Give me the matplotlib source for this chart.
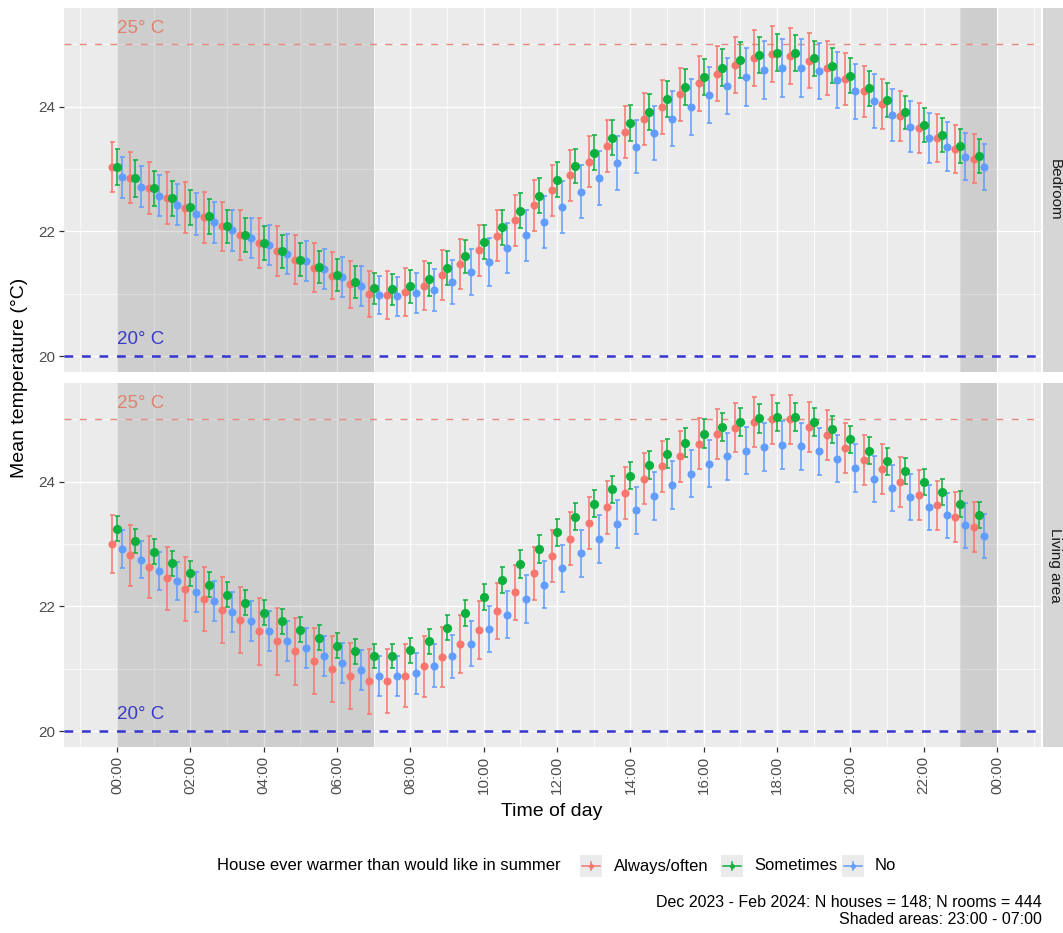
import matplotlib
matplotlib.use('Agg')
import matplotlib.pyplot as plt
from matplotlib.patches import Rectangle
from matplotlib.lines import Line2D

plt.rcParams['font.family'] = ['Liberation Sans', 'DejaVu Sans']

# ---------------- data ----------------
times = ["00:00", "00:30", "01:00", "01:30", "02:00", "02:30", "03:00", "03:30",
         "04:00", "04:30", "05:00", "05:30", "06:00", "06:30", "07:00", "07:30",
         "08:00", "08:30", "09:00", "09:30", "10:00", "10:30", "11:00", "11:30",
         "12:00", "12:30", "13:00", "13:30", "14:00", "14:30", "15:00", "15:30",
         "16:00", "16:30", "17:00", "17:30", "18:00", "18:30", "19:00", "19:30",
         "20:00", "20:30", "21:00", "21:30", "22:00", "22:30", "23:00", "23:30"]

groups = ["Always/often", "Sometimes", "No"]
panels = ["Bedroom", "Living area"]

x_tick_hours = [0, 2, 4, 6, 8, 10, 12, 14, 16, 18, 20, 22, 24]
x_tick_labels = ["00:00", "02:00", "04:00", "06:00", "08:00", "10:00", "12:00",
                 "14:00", "16:00", "18:00", "20:00", "22:00", "00:00"]
y_ticks = [20, 22, 24]

# Bedroom means
bed_always = [23.03, 22.86, 22.70, 22.54, 22.38, 22.23, 22.08, 21.95, 21.82, 21.68, 21.55, 21.42,
              21.29, 21.15, 21.00, 20.98, 21.03, 21.13, 21.30, 21.48, 21.70, 21.93, 22.18, 22.42,
              22.66, 22.90, 23.12, 23.37, 23.60, 23.80, 24.00, 24.20, 24.38, 24.53, 24.67, 24.78,
              24.84, 24.82, 24.74, 24.62, 24.45, 24.25, 24.05, 23.85, 23.66, 23.50, 23.32, 23.17]
bed_sometimes = [23.03, 22.85, 22.69, 22.53, 22.39, 22.24, 22.08, 21.94, 21.81, 21.68, 21.55, 21.43,
                 21.30, 21.19, 21.09, 21.07, 21.12, 21.23, 21.41, 21.60, 21.83, 22.07, 22.33, 22.57,
                 22.83, 23.05, 23.26, 23.50, 23.74, 23.92, 24.13, 24.32, 24.48, 24.63, 24.75, 24.83,
                 24.87, 24.86, 24.78, 24.66, 24.50, 24.30, 24.11, 23.91, 23.71, 23.55, 23.37, 23.21]
bed_no = [22.87, 22.72, 22.57, 22.43, 22.28, 22.15, 22.02, 21.90, 21.78, 21.64, 21.52, 21.40,
          21.27, 21.12, 20.98, 20.96, 21.01, 21.06, 21.19, 21.35, 21.51, 21.73, 21.94, 22.15,
          22.39, 22.64, 22.86, 23.10, 23.36, 23.58, 23.81, 24.00, 24.19, 24.34, 24.48, 24.59,
          24.62, 24.62, 24.57, 24.43, 24.25, 24.09, 23.87, 23.68, 23.50, 23.36, 23.20, 23.04]

# Bedroom half-widths of the error bars
bed_always_err = [0.40, 0.41, 0.42, 0.42, 0.41, 0.41, 0.40, 0.40, 0.40, 0.40, 0.39, 0.39,
                  0.38, 0.38, 0.37, 0.38, 0.38, 0.39, 0.40, 0.40, 0.41, 0.41, 0.41, 0.41,
                  0.41, 0.41, 0.41, 0.42, 0.42, 0.42, 0.43, 0.43, 0.44, 0.44, 0.45, 0.45,
                  0.45, 0.45, 0.44, 0.43, 0.42, 0.41, 0.40, 0.40, 0.40, 0.39, 0.39, 0.39]
bed_sometimes_err = [0.29, 0.29, 0.28, 0.28, 0.28, 0.28, 0.27, 0.27, 0.27, 0.26, 0.26, 0.26,
                     0.26, 0.25, 0.25, 0.25, 0.26, 0.26, 0.27, 0.27, 0.27, 0.28, 0.28, 0.28,
                     0.28, 0.28, 0.28, 0.28, 0.29, 0.29, 0.29, 0.29, 0.29, 0.29, 0.29, 0.29,
                     0.29, 0.29, 0.28, 0.28, 0.28, 0.28, 0.27, 0.27, 0.27, 0.27, 0.27, 0.27]
bed_no_err = [0.33, 0.33, 0.33, 0.33, 0.33, 0.33, 0.33, 0.32, 0.32, 0.32, 0.32, 0.32,
              0.32, 0.32, 0.31, 0.31, 0.32, 0.33, 0.35, 0.37, 0.39, 0.40, 0.41, 0.42,
              0.42, 0.43, 0.43, 0.43, 0.43, 0.44, 0.44, 0.45, 0.45, 0.45, 0.46, 0.46,
              0.46, 0.46, 0.45, 0.45, 0.44, 0.43, 0.42, 0.41, 0.40, 0.39, 0.38, 0.37]

# Living area means
liv_always = [23.00, 22.82, 22.63, 22.45, 22.28, 22.12, 21.95, 21.78, 21.60, 21.44, 21.28, 21.12,
              20.99, 20.89, 20.80, 20.80, 20.89, 21.04, 21.19, 21.40, 21.62, 21.93, 22.23, 22.53,
              22.81, 23.09, 23.34, 23.59, 23.82, 24.05, 24.25, 24.41, 24.61, 24.76, 24.87, 24.96,
              25.00, 25.00, 24.88, 24.75, 24.54, 24.35, 24.20, 24.00, 23.79, 23.62, 23.44, 23.27]
liv_sometimes = [23.25, 23.05, 22.88, 22.69, 22.53, 22.35, 22.19, 22.06, 21.90, 21.76, 21.63, 21.50,
                 21.37, 21.28, 21.20, 21.21, 21.30, 21.44, 21.66, 21.89, 22.15, 22.42, 22.68, 22.92,
                 23.19, 23.44, 23.65, 23.88, 24.10, 24.27, 24.45, 24.63, 24.77, 24.88, 24.96, 25.02,
                 25.04, 25.04, 24.96, 24.84, 24.68, 24.50, 24.33, 24.17, 24.00, 23.83, 23.65, 23.47]
liv_no = [22.92, 22.75, 22.57, 22.41, 22.23, 22.09, 21.91, 21.76, 21.60, 21.44, 21.33, 21.21,
          21.09, 20.98, 20.88, 20.88, 20.93, 21.05, 21.20, 21.40, 21.64, 21.87, 22.12, 22.35,
          22.61, 22.85, 23.08, 23.32, 23.54, 23.77, 23.95, 24.13, 24.29, 24.41, 24.50, 24.56,
          24.59, 24.57, 24.49, 24.37, 24.22, 24.05, 23.90, 23.75, 23.59, 23.46, 23.30, 23.13]

# Living area half-widths of the error bars
liv_always_err = [0.47, 0.49, 0.50, 0.51, 0.52, 0.52, 0.53, 0.53, 0.54, 0.54, 0.54, 0.53,
                  0.53, 0.53, 0.52, 0.51, 0.50, 0.49, 0.48, 0.47, 0.46, 0.45, 0.44, 0.43,
                  0.42, 0.42, 0.42, 0.42, 0.42, 0.41, 0.41, 0.41, 0.41, 0.40, 0.40, 0.40,
                  0.40, 0.40, 0.40, 0.40, 0.40, 0.40, 0.40, 0.40, 0.40, 0.40, 0.40, 0.40]
liv_sometimes_err = [0.20, 0.20, 0.20, 0.20, 0.20, 0.20, 0.20, 0.20, 0.20, 0.20, 0.20, 0.20,
                     0.20, 0.20, 0.19, 0.19, 0.20, 0.20, 0.20, 0.21, 0.21, 0.21, 0.22, 0.22,
                     0.22, 0.22, 0.22, 0.22, 0.22, 0.22, 0.23, 0.23, 0.23, 0.23, 0.23, 0.23,
                     0.23, 0.23, 0.22, 0.22, 0.22, 0.22, 0.22, 0.21, 0.21, 0.21, 0.21, 0.21]
liv_no_err = [0.30, 0.30, 0.31, 0.31, 0.32, 0.32, 0.32, 0.32, 0.32, 0.32, 0.32, 0.32,
              0.32, 0.32, 0.32, 0.32, 0.33, 0.34, 0.35, 0.36, 0.37, 0.38, 0.38, 0.38,
              0.38, 0.38, 0.38, 0.38, 0.38, 0.38, 0.38, 0.38, 0.38, 0.38, 0.38, 0.38,
              0.38, 0.38, 0.38, 0.38, 0.38, 0.37, 0.37, 0.37, 0.36, 0.36, 0.36, 0.36]

panel_data = {
    "Bedroom": [(bed_always, bed_always_err), (bed_sometimes, bed_sometimes_err), (bed_no, bed_no_err)],
    "Living area": [(liv_always, liv_always_err), (liv_sometimes, liv_sometimes_err), (liv_no, liv_no_err)],
}

shade_spans = [(0, 7), (23, 24)]
ref_lines = [25, 20]
ref_labels = ["25° C", "20° C"]

legend_title = "House ever warmer than would like in summer"
caption = "Dec 2023 - Feb 2024: N houses = 148; N rooms = 444\nShaded areas: 23:00 - 07:00"

# ---------------- style ----------------
colors = ["#F8766D", "#0DB03C", "#619CFF"]
point_sizes = [5.8, 6.6, 5.8]
dodge = [-0.14, 0.0, 0.14]
ref_colors = ["#E8897E", "#3535D0"]
ref_text_colors = ["#E0826F", "#3A3AC8"]

W, H = 1063, 933
fig = plt.figure(figsize=(W / 100, H / 100), dpi=100)

hours = [int(t[:2]) + int(t[3:]) / 60 for t in times]

ax_left = 64 / W
ax_w = (1041 - 64) / W
ax_h = 363.4 / H
bottoms = [1 - 371.7 / H, 1 - 746.7 / H]

axes = []
for i, panel in enumerate(panels):
    ax = fig.add_axes([ax_left, bottoms[i], ax_w, ax_h])
    axes.append(ax)
    ax.set_facecolor("#EBEBEB")
    ax.set_xlim(-1.45, 25.2)
    ax.set_ylim(19.75, 25.58)
    for s in ax.spines.values():
        s.set_visible(False)
    # grid
    for xv in range(-1, 26, 2):
        ax.axvline(xv, color="white", lw=0.5, zorder=0.5)
    for xv in x_tick_hours:
        ax.axvline(xv, color="white", lw=1.0, zorder=0.6)
    for yv in [21, 23, 25]:
        ax.axhline(yv, color="white", lw=0.5, zorder=0.5)
    for yv in y_ticks:
        ax.axhline(yv, color="white", lw=1.0, zorder=0.6)
    # shaded areas
    for (a, b) in shade_spans:
        ax.axvspan(a, b, color="black", alpha=0.12, lw=0, zorder=1)
    # reference lines
    ax.axhline(ref_lines[0], color=ref_colors[0], lw=1.0, ls=(0, (5, 6)), zorder=2)
    ax.axhline(ref_lines[1], color=ref_colors[1], lw=1.8, ls=(0, (3.5, 3.5)), zorder=2)
    ax.text(0, 25.26, ref_labels[0], color=ref_text_colors[0], fontsize=13.5,
            ha="left", va="center", zorder=3)
    ax.text(0, 20.26, ref_labels[1], color=ref_text_colors[1], fontsize=13.5,
            ha="left", va="center", zorder=3)
    # error bars
    for g, (vals, errs) in enumerate(panel_data[panel]):
        xs = [h + dodge[g] for h in hours]
        ax.errorbar(xs, vals, yerr=errs, fmt="none", ecolor=colors[g],
                    elinewidth=1.1, capsize=1.8, capthick=1.1, zorder=4)
    # points (green on top)
    for g in [0, 2, 1]:
        vals = panel_data[panel][g][0]
        xs = [h + dodge[g] for h in hours]
        ax.plot(xs, vals, "o", color=colors[g], ms=point_sizes[g],
                mec="none", zorder=5)
    # ticks
    ax.set_yticks(y_ticks)
    ax.set_yticklabels([str(v) for v in y_ticks])
    ax.tick_params(axis="y", length=3.5, width=0.9, color="#333333",
                   labelcolor="#4D4D4D", labelsize=11, pad=2.5)
    ax.set_xticks(x_tick_hours)
    if i == 1:
        ax.set_xticklabels(x_tick_labels, rotation=90, va="top", ha="center")
        ax.tick_params(axis="x", length=3.5, width=0.9, color="#333333",
                       labelcolor="#4D4D4D", labelsize=11, pad=3)
    else:
        ax.tick_params(axis="x", length=0, labelbottom=False)

    # strip
    y0 = bottoms[i]
    fig.patches.append(Rectangle((1043 / W, y0), 30 / W, ax_h, transform=fig.transFigure,
                                 facecolor="#D6D6D6", edgecolor="none"))
    fig.text(1055 / W, y0 + ax_h / 2, panel, rotation=-90, ha="center", va="center",
             fontsize=11, color="#1A1A1A")

# axis titles
fig.text(552 / W, 1 - 812 / H, "Time of day", ha="center", va="center", fontsize=14, color="black")
fig.text(20 / W, 1 - 378 / H, "Mean temperature (°C)", ha="center", va="center",
         rotation=90, fontsize=14, color="black")

# legend (drawn manually, ggplot-style keys)
ly = 1 - 866 / H
fig.text(217 / W, ly, legend_title, ha="left", va="center", fontsize=12, color="black")
key_centers = [591, 732, 853]
label_starts = [614, 754, 875]
ksz = 22
for g in range(3):
    kx = key_centers[g]
    fig.patches.append(Rectangle(((kx - ksz / 2) / W, ly - (ksz / 2) / H), ksz / W, ksz / H,
                                 transform=fig.transFigure, facecolor="#EBEBEB", edgecolor="none"))
    fig.lines.append(Line2D([(kx - 9) / W, (kx + 9) / W], [ly, ly], transform=fig.transFigure,
                            color=colors[g], lw=1.1))
    fig.lines.append(Line2D([kx / W, kx / W], [ly - 4 / H, ly + 4 / H], transform=fig.transFigure,
                            color=colors[g], lw=1.1))
    fig.lines.append(Line2D([kx / W], [ly], transform=fig.transFigure, color=colors[g],
                            marker="o", ms=3.5, mec="none", lw=0))
    fig.text(label_starts[g] / W, ly, groups[g], ha="left", va="center", fontsize=12, color="black")

# caption
fig.text(1042 / W, 1 - 911 / H, caption, ha="right", va="center", fontsize=11.5,
         color="black", linespacing=1.2, multialignment="right")

fig.savefig("out.png", dpi=100)
